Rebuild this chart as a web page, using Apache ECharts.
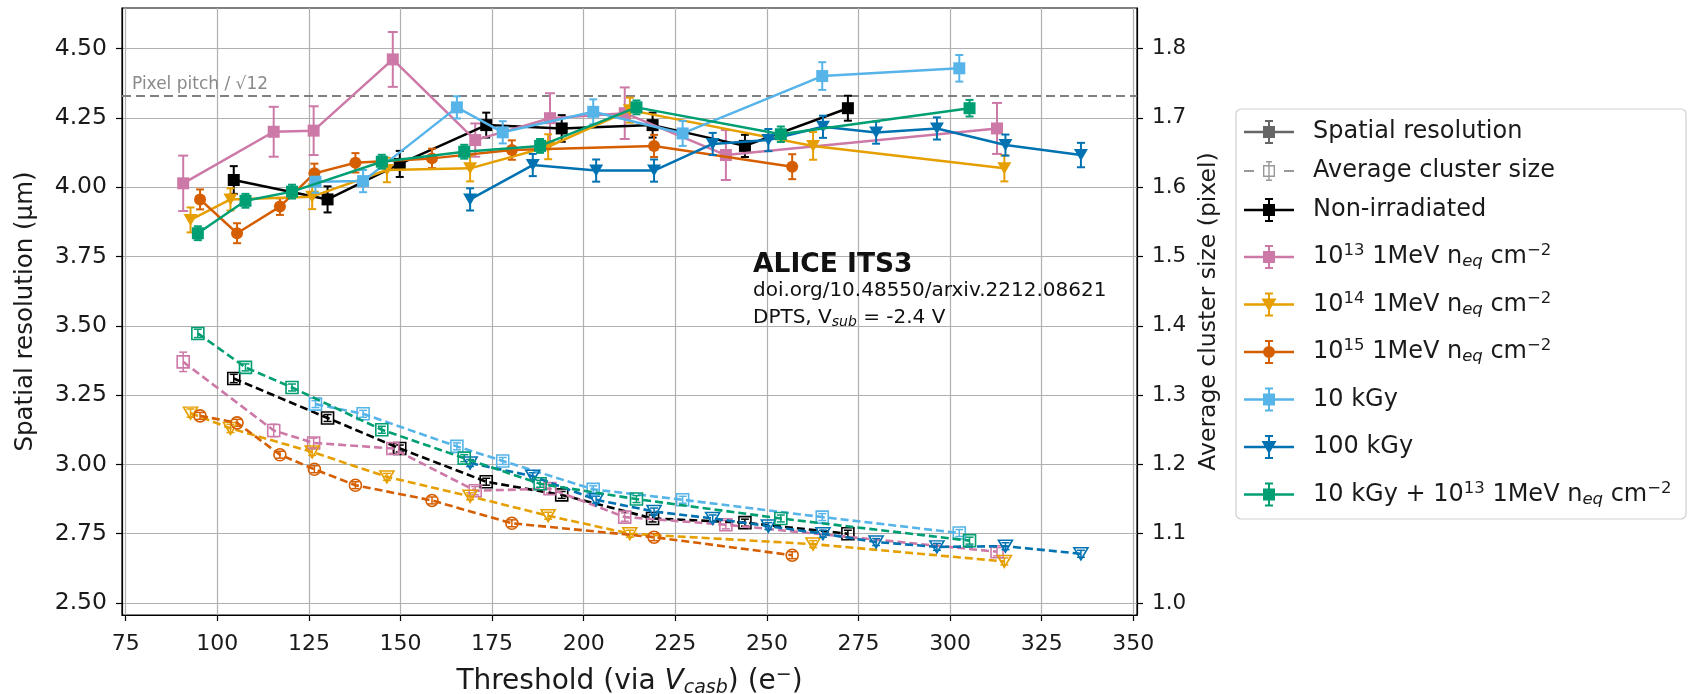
<!DOCTYPE html>
<html>
<head>
<meta charset="utf-8">
<script src="https://cdn.jsdelivr.net/npm/echarts@6/dist/echarts.min.js"></script>
<style>
  html, body { margin: 0; padding: 0; background: #fff; }
  #myChart { width: 1688px; height: 694px; }
</style>
</head>
<body>
<div id="myChart"></div>
<script>
// tick labels
const xTicks = [75, 100, 125, 150, 175, 200, 225, 250, 275, 300, 325, 350];
const resTicks = [2.5, 2.75, 3.0, 3.25, 3.5, 3.75, 4.0, 4.25, 4.5];
const cluTicks = [1.0, 1.1, 1.2, 1.3, 1.4, 1.5, 1.6, 1.7, 1.8];
const pixelPitchLimit = 4.33; // 15 um / sqrt(12)

// Non-irradiated
const nonIrrX = [104.5, 130.1, 149.8, 173.4, 194.0, 218.8, 244.0, 272.1];
const nonIrrRes = [4.026, 3.956, 4.084, 4.224, 4.212, 4.224, 4.149, 4.285];
const nonIrrResErr = [0.05, 0.047, 0.047, 0.045, 0.048, 0.045, 0.04, 0.045];
const nonIrrClu = [1.324, 1.267, 1.223, 1.175, 1.156, 1.122, 1.116, 1.100];
const nonIrrCluErr = [0.006, 0.005, 0.005, 0.005, 0.005, 0.005, 0.005, 0.005];

// 1e13 1MeV neq cm-2
const neq13X = [90.7, 115.4, 126.3, 147.9, 170.4, 190.8, 211.2, 238.8, 312.8];
const neq13Res = [4.014, 4.200, 4.204, 4.461, 4.170, 4.249, 4.267, 4.116, 4.212];
const neq13ResErr = [0.1, 0.09, 0.088, 0.099, 0.06, 0.09, 0.093, 0.09, 0.092];
const neq13Clu = [1.348, 1.249, 1.231, 1.223, 1.162, 1.165, 1.124, 1.113, 1.074];
const neq13CluErr = [0.014, 0.009, 0.007, 0.007, 0.006, 0.006, 0.006, 0.006, 0.006];

// 1e14 1MeV neq cm-2
const neq14X = [92.7, 103.6, 125.9, 146.3, 169.0, 190.3, 212.6, 262.6, 314.8];
const neq14Res = [3.882, 3.956, 3.966, 4.062, 4.068, 4.146, 4.278, 4.149, 4.068];
const neq14ResErr = [0.045, 0.04, 0.045, 0.044, 0.047, 0.045, 0.045, 0.05, 0.047];
const neq14Clu = [1.274, 1.252, 1.218, 1.182, 1.154, 1.126, 1.100, 1.085, 1.060];
const neq14CluErr = [0.006, 0.006, 0.005, 0.005, 0.005, 0.005, 0.005, 0.005, 0.005];

// 1e15 1MeV neq cm-2
const neq15X = [95.3, 105.4, 117.1, 126.5, 137.7, 158.6, 180.4, 219.2, 256.9];
const neq15Res = [3.956, 3.834, 3.930, 4.050, 4.088, 4.104, 4.134, 4.149, 4.074];
const neq15ResErr = [0.036, 0.036, 0.03, 0.035, 0.035, 0.035, 0.035, 0.04, 0.045];
const neq15Clu = [1.270, 1.260, 1.214, 1.193, 1.170, 1.148, 1.115, 1.095, 1.069];
const neq15CluErr = [0.005, 0.005, 0.005, 0.005, 0.005, 0.005, 0.005, 0.005, 0.005];

// 10 kGy
const kGy10X = [126.8, 139.8, 165.4, 177.9, 202.6, 227.0, 265.1, 302.5];
const kGy10Res = [4.020, 4.022, 4.288, 4.198, 4.272, 4.194, 4.401, 4.429];
const kGy10ResErr = [0.04, 0.04, 0.04, 0.04, 0.045, 0.045, 0.05, 0.048];
const kGy10Clu = [1.287, 1.273, 1.226, 1.205, 1.164, 1.149, 1.124, 1.101];
const kGy10CluErr = [0.005, 0.005, 0.005, 0.005, 0.005, 0.005, 0.005, 0.005];

// 100 kGy
const kGy100X = [169.0, 186.1, 203.4, 219.2, 235.2, 250.4, 265.3, 279.8, 296.4, 315.1, 335.7];
const kGy100Res = [3.956, 4.080, 4.060, 4.060, 4.156, 4.170, 4.218, 4.197, 4.212, 4.152, 4.116];
const kGy100ResErr = [0.04, 0.04, 0.04, 0.04, 0.04, 0.04, 0.04, 0.04, 0.04, 0.038, 0.044];
const kGy100Clu = [1.202, 1.183, 1.149, 1.132, 1.122, 1.111, 1.100, 1.088, 1.081, 1.082, 1.071];
const kGy100CluErr = [0.005, 0.005, 0.005, 0.005, 0.005, 0.005, 0.005, 0.005, 0.005, 0.005, 0.005];

// 10 kGy + 1e13 1MeV neq cm-2
const mixX = [94.7, 107.7, 120.4, 144.9, 167.4, 188.1, 214.4, 253.8, 305.3];
const mixRes = [3.834, 3.951, 3.984, 4.092, 4.128, 4.149, 4.288, 4.191, 4.285];
const mixResErr = [0.025, 0.025, 0.025, 0.025, 0.025, 0.025, 0.025, 0.028, 0.03];
const mixClu = [1.389, 1.340, 1.311, 1.250, 1.209, 1.172, 1.150, 1.122, 1.090];
const mixCluErr = [0.006, 0.005, 0.005, 0.005, 0.005, 0.005, 0.005, 0.005, 0.005];

const FONT = "DejaVu Sans";
const TXT = "#1a1a1a";

// marker shapes (matplotlib s / v / o)
const markers = {
  square: { symbol: "rect", symbolSize: 12, symbolRotate: 0 },
  tri: { symbol: "triangle", symbolSize: [14, 12], symbolRotate: 180 },
  circle: { symbol: "circle", symbolSize: 12, symbolRotate: 0 },
};

// legend icons: line + errorbar + marker, drawn on a 50x24 box
const barPath = "M0,10.8H50V13.2H0Z M24,0H26V24H24Z M21,0H29V2H21Z M21,22H29V24H21Z ";
const icons = {
  square: "path://" + barPath + "M19,6H31V18H19Z",
  tri: "path://" + barPath + "M17.5,6H32.5L25,19Z",
  circle: "path://" + barPath + "M19,12A6,6,0,1,1,31,12A6,6,0,1,1,19,12Z",
  open: "path://M0,11H10V13H0Z M40,11H50V13H40Z M19,6H31V18H19Z M29.6,7.4H20.4V16.6H29.6Z M24.3,2H25.7V22H24.3Z M22,2H28V3.4H22Z M22,20.6H28V22H22Z",
};

const sets = [
  { name: "Non-irradiated", color: "#000000", mk: "square", x: nonIrrX, res: nonIrrRes, resErr: nonIrrResErr, clu: nonIrrClu, cluErr: nonIrrCluErr, cap: 4 },
  { name: "neq13", color: "#CC79A7", mk: "square", x: neq13X, res: neq13Res, resErr: neq13ResErr, clu: neq13Clu, cluErr: neq13CluErr, cap: 5 },
  { name: "neq14", color: "#E69F00", mk: "tri", x: neq14X, res: neq14Res, resErr: neq14ResErr, clu: neq14Clu, cluErr: neq14CluErr, cap: 4 },
  { name: "neq15", color: "#D55E00", mk: "circle", x: neq15X, res: neq15Res, resErr: neq15ResErr, clu: neq15Clu, cluErr: neq15CluErr, cap: 4 },
  { name: "10 kGy", color: "#56B4E9", mk: "square", x: kGy10X, res: kGy10Res, resErr: kGy10ResErr, clu: kGy10Clu, cluErr: kGy10CluErr, cap: 4 },
  { name: "100 kGy", color: "#0072B2", mk: "tri", x: kGy100X, res: kGy100Res, resErr: kGy100ResErr, clu: kGy100Clu, cluErr: kGy100CluErr, cap: 4 },
  { name: "mix", color: "#009E73", mk: "square", x: mixX, res: mixRes, resErr: mixResErr, clu: mixClu, cluErr: mixCluErr, cap: 4 },
];

const legendText = {
  neq13: "{m|10}{sup|13}{m| 1MeV n}{sub|eq}{m| cm}{sup|−2}",
  neq14: "{m|10}{sup|14}{m| 1MeV n}{sub|eq}{m| cm}{sup|−2}",
  neq15: "{m|10}{sup|15}{m| 1MeV n}{sub|eq}{m| cm}{sup|−2}",
  "10 kGy": "{m|10 kGy}",
  "100 kGy": "{m|100 kGy}",
  mix: "{m|10 kGy + 10}{sup|13}{m| 1MeV n}{sub|eq}{m| cm}{sup|−2}",
};

function errorBars(name, color, yAxisIndex, x, y, err, cap, width, z) {
  return {
    type: "custom",
    name: name,
    yAxisIndex: yAxisIndex,
    z: z,
    silent: true,
    clip: true,
    data: x.map((v, i) => [v, y[i], err[i]]),
    encode: { x: 0, y: 1 },
    renderItem: function (params, api) {
      const top = api.coord([api.value(0), api.value(1) + api.value(2)]);
      const bot = api.coord([api.value(0), api.value(1) - api.value(2)]);
      const st = { stroke: color, lineWidth: width, fill: null };
      return {
        type: "group",
        children: [
          { type: "line", shape: { x1: top[0], y1: top[1], x2: bot[0], y2: bot[1] }, style: st },
          { type: "line", shape: { x1: top[0] - cap, y1: top[1], x2: top[0] + cap, y2: top[1] }, style: st },
          { type: "line", shape: { x1: bot[0] - cap, y1: bot[1], x2: bot[0] + cap, y2: bot[1] }, style: st },
        ],
      };
    },
  };
}

let series = [];
sets.forEach((s, k) => {
  const m = markers[s.mk];
  // spatial resolution, solid line, left axis
  series.push({
    type: "line",
    name: s.name,
    yAxisIndex: 0,
    z: 10 + k,
    data: s.x.map((v, i) => [v, s.res[i]]),
    symbol: m.symbol,
    symbolSize: m.symbolSize,
    symbolRotate: m.symbolRotate,
    lineStyle: { color: s.color, width: 2.5 },
    itemStyle: { color: s.color },
    emphasis: { disabled: true },
  });
  series.push(errorBars(s.name, s.color, 0, s.x, s.res, s.resErr, s.cap, 2, 9 + k));
  // average cluster size, dashed line, open markers, right axis
  series.push({
    type: "line",
    name: s.name,
    yAxisIndex: 1,
    z: 10 + k,
    data: s.x.map((v, i) => [v, s.clu[i]]),
    symbol: m.symbol,
    symbolSize: m.symbolSize,
    symbolRotate: m.symbolRotate,
    lineStyle: { color: s.color, width: 2.6, type: [8, 4] },
    itemStyle: { color: "rgba(255,255,255,0)", borderColor: s.color, borderWidth: 1.6 },
    emphasis: { disabled: true },
  });
  series.push(errorBars(s.name, s.color, 1, s.x, s.clu, s.cluErr, 4, 1.5, 9 + k));
});

// pixel pitch / sqrt(12) reference line
series[0].markLine = {
  silent: true,
  symbol: "none",
  animation: false,
  lineStyle: { color: "#808080", width: 2, type: [9, 5] },
  label: {
    show: true,
    position: "insideStartTop",
    formatter: "Pixel pitch / √12",
    color: "#8a8a8a",
    fontFamily: FONT,
    fontSize: 17,
    distance: [10, 3],
  },
  data: [{ yAxis: pixelPitchLimit }],
};

// legend-only entries
series.push({ type: "line", name: "Spatial resolution", data: [], itemStyle: { color: "#666666" } });
series.push({ type: "line", name: "Average cluster size", data: [], itemStyle: { color: "#999999" } });

const legendBase = {
  orient: "vertical",
  left: 1244,
  padding: 0,
  itemWidth: 50,
  itemHeight: 24,
  selectedMode: false,
  itemStyle: { borderWidth: 0 },
  formatter: (n) => legendText[n] || n,
  textStyle: {
    fontFamily: FONT,
    fontSize: 24,
    color: TXT,
    lineHeight: 24,
    padding: [0, 0, 0, 14],
    rich: {
      m: { fontFamily: FONT, fontSize: 24, color: TXT, lineHeight: 34 },
      sup: { fontFamily: FONT, fontSize: 16.5, color: TXT, padding: [0, 0, 12, 0] },
      sub: { fontFamily: FONT, fontSize: 16.5, fontStyle: "italic", color: TXT, padding: [10, 0, 0, 0] },
    },
  },
};

let myChart = echarts.init(document.getElementById("myChart"));
myChart.setOption({
  animation: false,
  grid: {
    left: 122,
    right: 551,
    top: 8,
    bottom: 79,
    outerBoundsMode: "none",
    containLabel: false,
    show: true,
    borderColor: "#000",
    borderWidth: 1.2,
    backgroundColor: "transparent",
  },
  xAxis: {
    type: "value",
    min: 74,
    max: 351,
    axisLine: { lineStyle: { color: "#000", width: 1.2 } },
    axisTick: { customValues: xTicks, length: 6, lineStyle: { color: "#000", width: 1.2 } },
    axisLabel: { customValues: xTicks, fontFamily: FONT, fontSize: 22, color: TXT, margin: 18 },
    splitLine: { show: true, lineStyle: { color: "#b0b0b0", width: 1.2 } },
    name: "Threshold (via {it|V}{itsub|casb}) (e{sup|−})",
    nameLocation: "middle",
    nameGap: 51,
    nameTextStyle: {
      fontFamily: FONT,
      fontSize: 28,
      color: TXT,
      rich: {
        it: { fontFamily: FONT, fontSize: 28, fontStyle: "italic", color: TXT },
        itsub: { fontFamily: FONT, fontSize: 19, fontStyle: "italic", color: TXT, padding: [13, 0, 0, 0] },
        sup: { fontFamily: FONT, fontSize: 19, color: TXT, padding: [0, 0, 13, 0] },
      },
    },
  },
  yAxis: [
    {
      type: "value",
      min: 2.4567,
      max: 4.6465,
      axisLine: { show: true, lineStyle: { color: "#000", width: 1.2 } },
      axisTick: { show: true, customValues: resTicks, length: 6, lineStyle: { color: "#000", width: 1.2 } },
      axisLabel: {
        customValues: resTicks,
        formatter: (v) => v.toFixed(2),
        fontFamily: FONT,
        fontSize: 23.5,
        color: TXT,
        margin: 15,
      },
      splitLine: { show: true, lineStyle: { color: "#b0b0b0", width: 1.2 } },
      name: "Spatial resolution (μm)",
      nameLocation: "middle",
      nameRotate: 90,
      nameGap: 84,
      nameTextStyle: { fontFamily: FONT, fontSize: 24.5, color: TXT },
    },
    {
      type: "value",
      position: "right",
      min: 0.9827,
      max: 1.8586,
      axisLine: { show: true, lineStyle: { color: "#000", width: 1.2 } },
      axisTick: { show: true, customValues: cluTicks, length: 6, lineStyle: { color: "#000", width: 1.2 } },
      axisLabel: {
        customValues: cluTicks,
        formatter: (v) => v.toFixed(1),
        fontFamily: FONT,
        fontSize: 21.5,
        color: TXT,
        margin: 15,
      },
      splitLine: { show: false },
      name: "Average cluster size (pixel)",
      nameLocation: "middle",
      nameRotate: 90,
      nameGap: 60,
      nameTextStyle: { fontFamily: FONT, fontSize: 23.5, color: TXT },
    },
  ],
  legend: [
    Object.assign({}, legendBase, {
      top: 120,
      itemGap: 15,
      data: [
        { name: "Spatial resolution", icon: icons.square },
        { name: "Average cluster size", icon: icons.open },
        { name: "Non-irradiated", icon: icons.square },
      ],
    }),
    Object.assign({}, legendBase, {
      top: 240,
      itemGap: 13.5,
      data: sets.slice(1).map((s) => ({ name: s.name, icon: icons[s.mk] })),
    }),
  ],
  graphic: [
    {
      // legend frame
      type: "rect",
      z: 0,
      silent: true,
      shape: { x: 1236, y: 109, width: 450, height: 410, r: 5 },
      style: { fill: "#fff", stroke: "#cfcfcf", lineWidth: 1.2 },
    },
    {
      type: "text",
      z: 100,
      x: 753,
      y: 265,
      style: { text: "ALICE ITS3", fontFamily: FONT, fontWeight: "bold", fontSize: 26.5, fill: "#111", verticalAlign: "middle" },
    },
    {
      type: "text",
      z: 100,
      x: 753,
      y: 291,
      style: { text: "doi.org/10.48550/arxiv.2212.08621", fontFamily: FONT, fontSize: 20, fill: "#111", verticalAlign: "middle" },
    },
    {
      type: "text",
      z: 100,
      x: 753,
      y: 318,
      style: {
        text: "DPTS, V{sub|sub} = -2.4 V",
        fontFamily: FONT,
        fontSize: 20,
        fill: "#111",
        verticalAlign: "middle",
        rich: { sub: { fontFamily: FONT, fontSize: 14, fontStyle: "italic", fill: "#111", padding: [9, 0, 0, 0] } },
      },
    },
  ],
  series: series,
});
</script>
</body>
</html>
